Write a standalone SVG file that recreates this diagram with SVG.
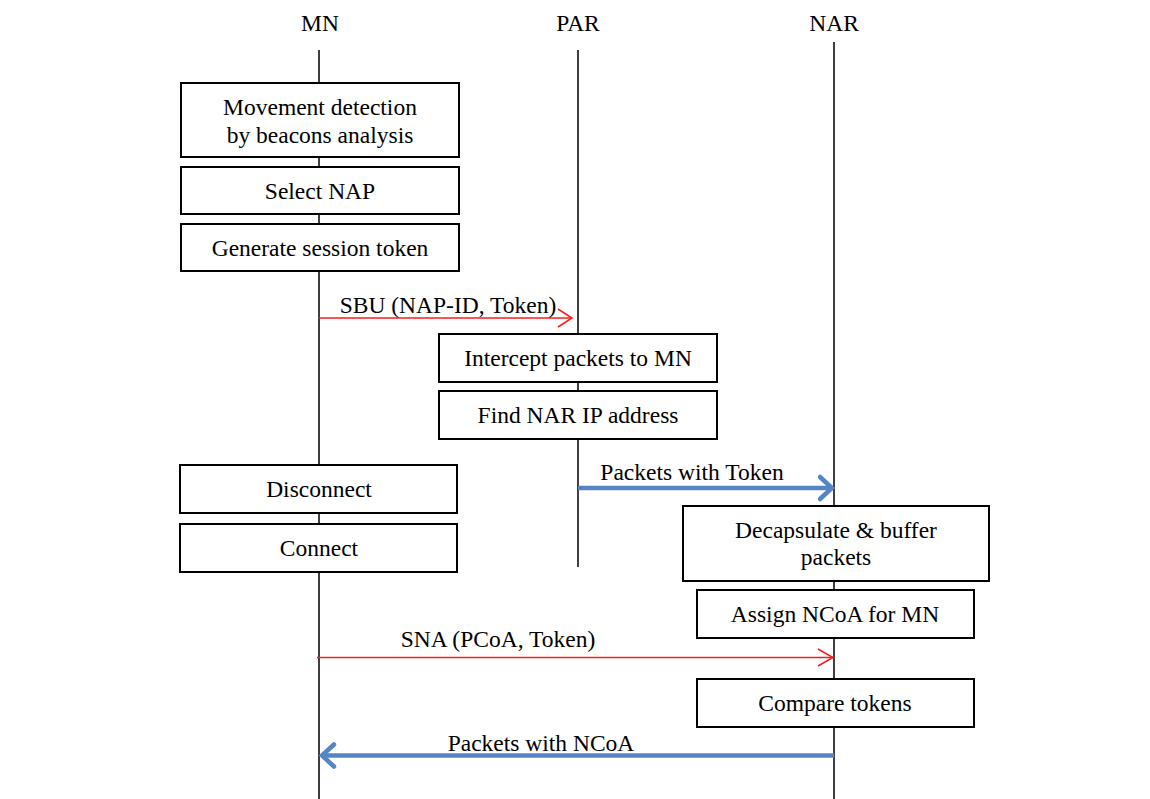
<svg xmlns="http://www.w3.org/2000/svg" width="1150" height="799" viewBox="0 0 1150 799">
<style>
  text { font-family: "Liberation Serif", "Times New Roman", serif; font-size: 23.5px; fill: #000; text-anchor: middle; }
  .box { fill: #fff; stroke: #000; stroke-width: 2; }
  .life { stroke: #000; stroke-width: 1.5; fill: none; }
  .red { stroke: #ff1a1a; stroke-width: 1.5; fill: none; }
  .blue { stroke: #5585c5; stroke-width: 4.5; fill: none; }
  .bluehead { stroke: #5585c5; stroke-width: 4.5; fill: none; stroke-linecap: round; stroke-linejoin: miter; }
</style>
<rect width="1150" height="799" fill="#fff"/>
<g id="lifelines">
  <text x="320" y="31">MN</text>
  <text x="578" y="31">PAR</text>
  <text x="834" y="31">NAR</text>
  <line class="life" x1="319" y1="50" x2="319" y2="799"/>
  <line class="life" x1="578" y1="50" x2="578" y2="567"/>
  <line class="life" x1="834" y1="42" x2="834" y2="799"/>
</g>
<g id="connectors">
  <g id="sbu">
    <line class="red" x1="319" y1="318" x2="572" y2="318"/>
    <polyline class="red" points="558,309 572,318 558,327"/>
    <text x="448" y="313">SBU (NAP-ID, Token)</text>
  </g>
  <g id="pkt-token">
    <line class="blue" x1="578" y1="488" x2="829" y2="488"/>
    <polyline class="bluehead" points="820,477 832,488 820,499"/>
    <text x="692" y="480">Packets with Token</text>
  </g>
  <g id="sna">
    <line class="red" x1="317" y1="657.5" x2="833" y2="657.5"/>
    <polyline class="red" points="818,649 833,657.5 818,666"/>
    <text x="498" y="647">SNA (PCoA, Token)</text>
  </g>
  <g id="pkt-ncoa">
    <line class="blue" x1="834" y1="755.5" x2="325" y2="755.5"/>
    <polyline class="bluehead" points="334,744.5 322,755.5 334,766.5"/>
    <text x="541" y="751">Packets with NCoA</text>
  </g>
</g>
<g id="n1"><rect class="box" x="181" y="83" width="278" height="74"/><text x="320" y="115">Movement detection</text><text x="320" y="142.5">by beacons analysis</text></g>
<g id="n2"><rect class="box" x="181" y="167" width="278" height="47"/><text x="320" y="199">Select NAP</text></g>
<g id="n3"><rect class="box" x="181" y="224" width="278" height="47"/><text x="320" y="256">Generate session token</text></g>
<g id="n4"><rect class="box" x="439" y="334" width="278" height="48"/><text x="578" y="366">Intercept packets to MN</text></g>
<g id="n5"><rect class="box" x="439" y="391" width="278" height="48"/><text x="578" y="423">Find NAR IP address</text></g>
<g id="n6"><rect class="box" x="180" y="465" width="277" height="48"/><text x="319" y="497">Disconnect</text></g>
<g id="n7"><rect class="box" x="180" y="524" width="277" height="48"/><text x="319" y="556">Connect</text></g>
<g id="n8"><rect class="box" x="683" y="506" width="306" height="75"/><text x="836" y="538">Decapsulate &amp; buffer</text><text x="836" y="565">packets</text></g>
<g id="n9"><rect class="box" x="697" y="590" width="277" height="48"/><text x="835" y="622">Assign NCoA for MN</text></g>
<g id="n10"><rect class="box" x="697" y="679" width="277" height="48"/><text x="835" y="711">Compare tokens</text></g>
</svg>
